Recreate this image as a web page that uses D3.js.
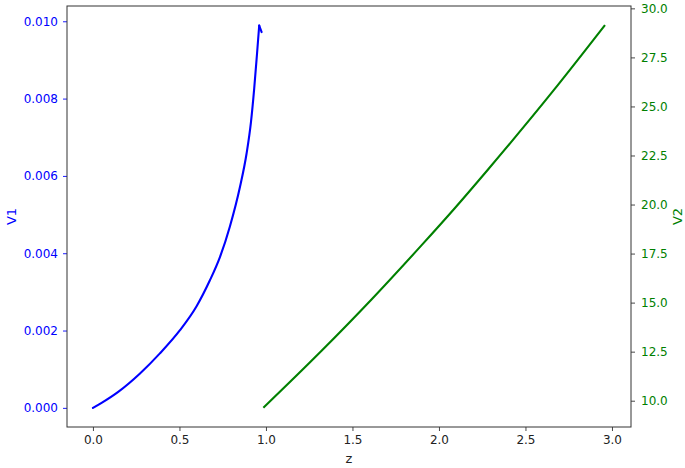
<!DOCTYPE html>
<html>
<head>
<meta charset="utf-8">
<script src="https://cdn.jsdelivr.net/npm/d3@7"></script>
<style>
  html, body { margin: 0; padding: 0; background: #fff; }
  svg text { font-family: "DejaVu Sans", sans-serif; }
</style>
</head>
<body>
<svg id="chart" width="685" height="468"></svg>
<script>
// V1 series (blue, left axis); the last point is the small turn-back at the top
const zBlue = [0, 0.05, 0.146, 0.272, 0.387, 0.503, 0.599, 0.676, 0.734, 0.792, 0.850, 0.888, 0.913, 0.932, 0.948, 0.961, 0.975];
const v1    = [0, 0.00013, 0.000414, 0.00089, 0.00141, 0.00201, 0.00263, 0.00330, 0.00390, 0.00470, 0.00572, 0.00658, 0.00738, 0.00826, 0.00914, 0.00989, 0.00972];

// V2 series (green, right axis)
const zGreen = [0.985, 1.32, 1.61, 1.90, 2.09, 2.28, 2.66, 2.96];
const v2     = [9.64, 12.53, 15.16, 17.93, 19.80, 21.75, 25.79, 29.15];

const xTicks  = [0, 0.5, 1, 1.5, 2, 2.5, 3];
const y1Ticks = [0, 0.002, 0.004, 0.006, 0.008, 0.010];
const y2Ticks = [10, 12.5, 15, 17.5, 20, 22.5, 25, 27.5, 30];

(function () {
    const W = 685, H = 468;
    const m = { left: 67, right: 54, top: 6, bottom: 41 };
    const iw = W - m.left - m.right, ih = H - m.top - m.bottom;
    const BLUE = "#0000ff", GREEN = "#008000", SPINE = "#333";

    const svg = d3.select("#chart");
    svg.append("rect").attr("width", W).attr("height", H).attr("fill", "#fff");
    const g = svg.append("g").attr("transform", `translate(${m.left},${m.top})`);

    const x  = d3.scaleLinear().domain([-0.15, 3.11]).range([0, iw]);
    const y1 = d3.scaleLinear().domain([-0.000495, 0.010395]).range([ih, 0]);
    const y2 = d3.scaleLinear().domain([8.66, 30.12]).range([ih, 0]);

    const styleAxis = (sel, color, tickColor) => {
        sel.select(".domain").remove();
        sel.selectAll(".tick line").attr("stroke", tickColor).attr("stroke-width", 0.9);
        sel.selectAll(".tick text").attr("fill", color).attr("font-size", "12px");
    };

    g.append("g")
        .attr("transform", `translate(0,${ih})`)
        .call(d3.axisBottom(x).tickValues(xTicks).tickFormat(d3.format(".1f")).tickSize(4).tickPadding(4))
        .call(s => styleAxis(s, "#222", SPINE));

    g.append("g")
        .call(d3.axisLeft(y1).tickValues(y1Ticks).tickFormat(d3.format(".3f")).tickSize(4).tickPadding(5))
        .call(s => styleAxis(s, BLUE, BLUE));

    g.append("g")
        .attr("transform", `translate(${iw},0)`)
        .call(d3.axisRight(y2).tickValues(y2Ticks).tickFormat(d3.format(".1f")).tickSize(4).tickPadding(6))
        .call(s => styleAxis(s, GREEN, SPINE));

    // frame
    g.append("rect")
        .attr("width", iw).attr("height", ih)
        .attr("fill", "none").attr("stroke", SPINE).attr("stroke-width", 1);

    const blue = zBlue.map((z, i) => [z, v1[i]]);
    const green = zGreen.map((z, i) => [z, v2[i]]);
    const peak = blue.length - 1;

    const smooth1 = d3.line().x(d => x(d[0])).y(d => y1(d[1])).curve(d3.curveMonotoneX);
    const straight1 = d3.line().x(d => x(d[0])).y(d => y1(d[1]));
    const smooth2 = d3.line().x(d => x(d[0])).y(d => y2(d[1])).curve(d3.curveMonotoneX);

    const blueG = g.append("g")
        .attr("fill", "none").attr("stroke", BLUE).attr("stroke-width", 2.1)
        .attr("stroke-linejoin", "round").attr("stroke-linecap", "round");
    blueG.append("path").attr("d", smooth1(blue.slice(0, peak)));
    blueG.append("path").attr("d", straight1(blue.slice(peak - 1)));

    g.append("path")
        .attr("d", smooth2(green)).attr("fill", "none")
        .attr("stroke", GREEN).attr("stroke-width", 2.1).attr("stroke-linejoin", "round");

    // axis labels
    svg.append("text")
        .attr("x", m.left + iw / 2).attr("y", 463)
        .attr("text-anchor", "middle").attr("font-size", "13px").attr("fill", "#222")
        .text("z");
    svg.append("text")
        .attr("transform", `translate(16,${m.top + ih / 2}) rotate(-90)`)
        .attr("text-anchor", "middle").attr("font-size", "13px").attr("fill", BLUE)
        .text("V1");
    svg.append("text")
        .attr("transform", `translate(682,${m.top + ih / 2}) rotate(-90)`)
        .attr("text-anchor", "middle").attr("font-size", "13px").attr("fill", GREEN)
        .text("V2");
})();
</script>
</body>
</html>
